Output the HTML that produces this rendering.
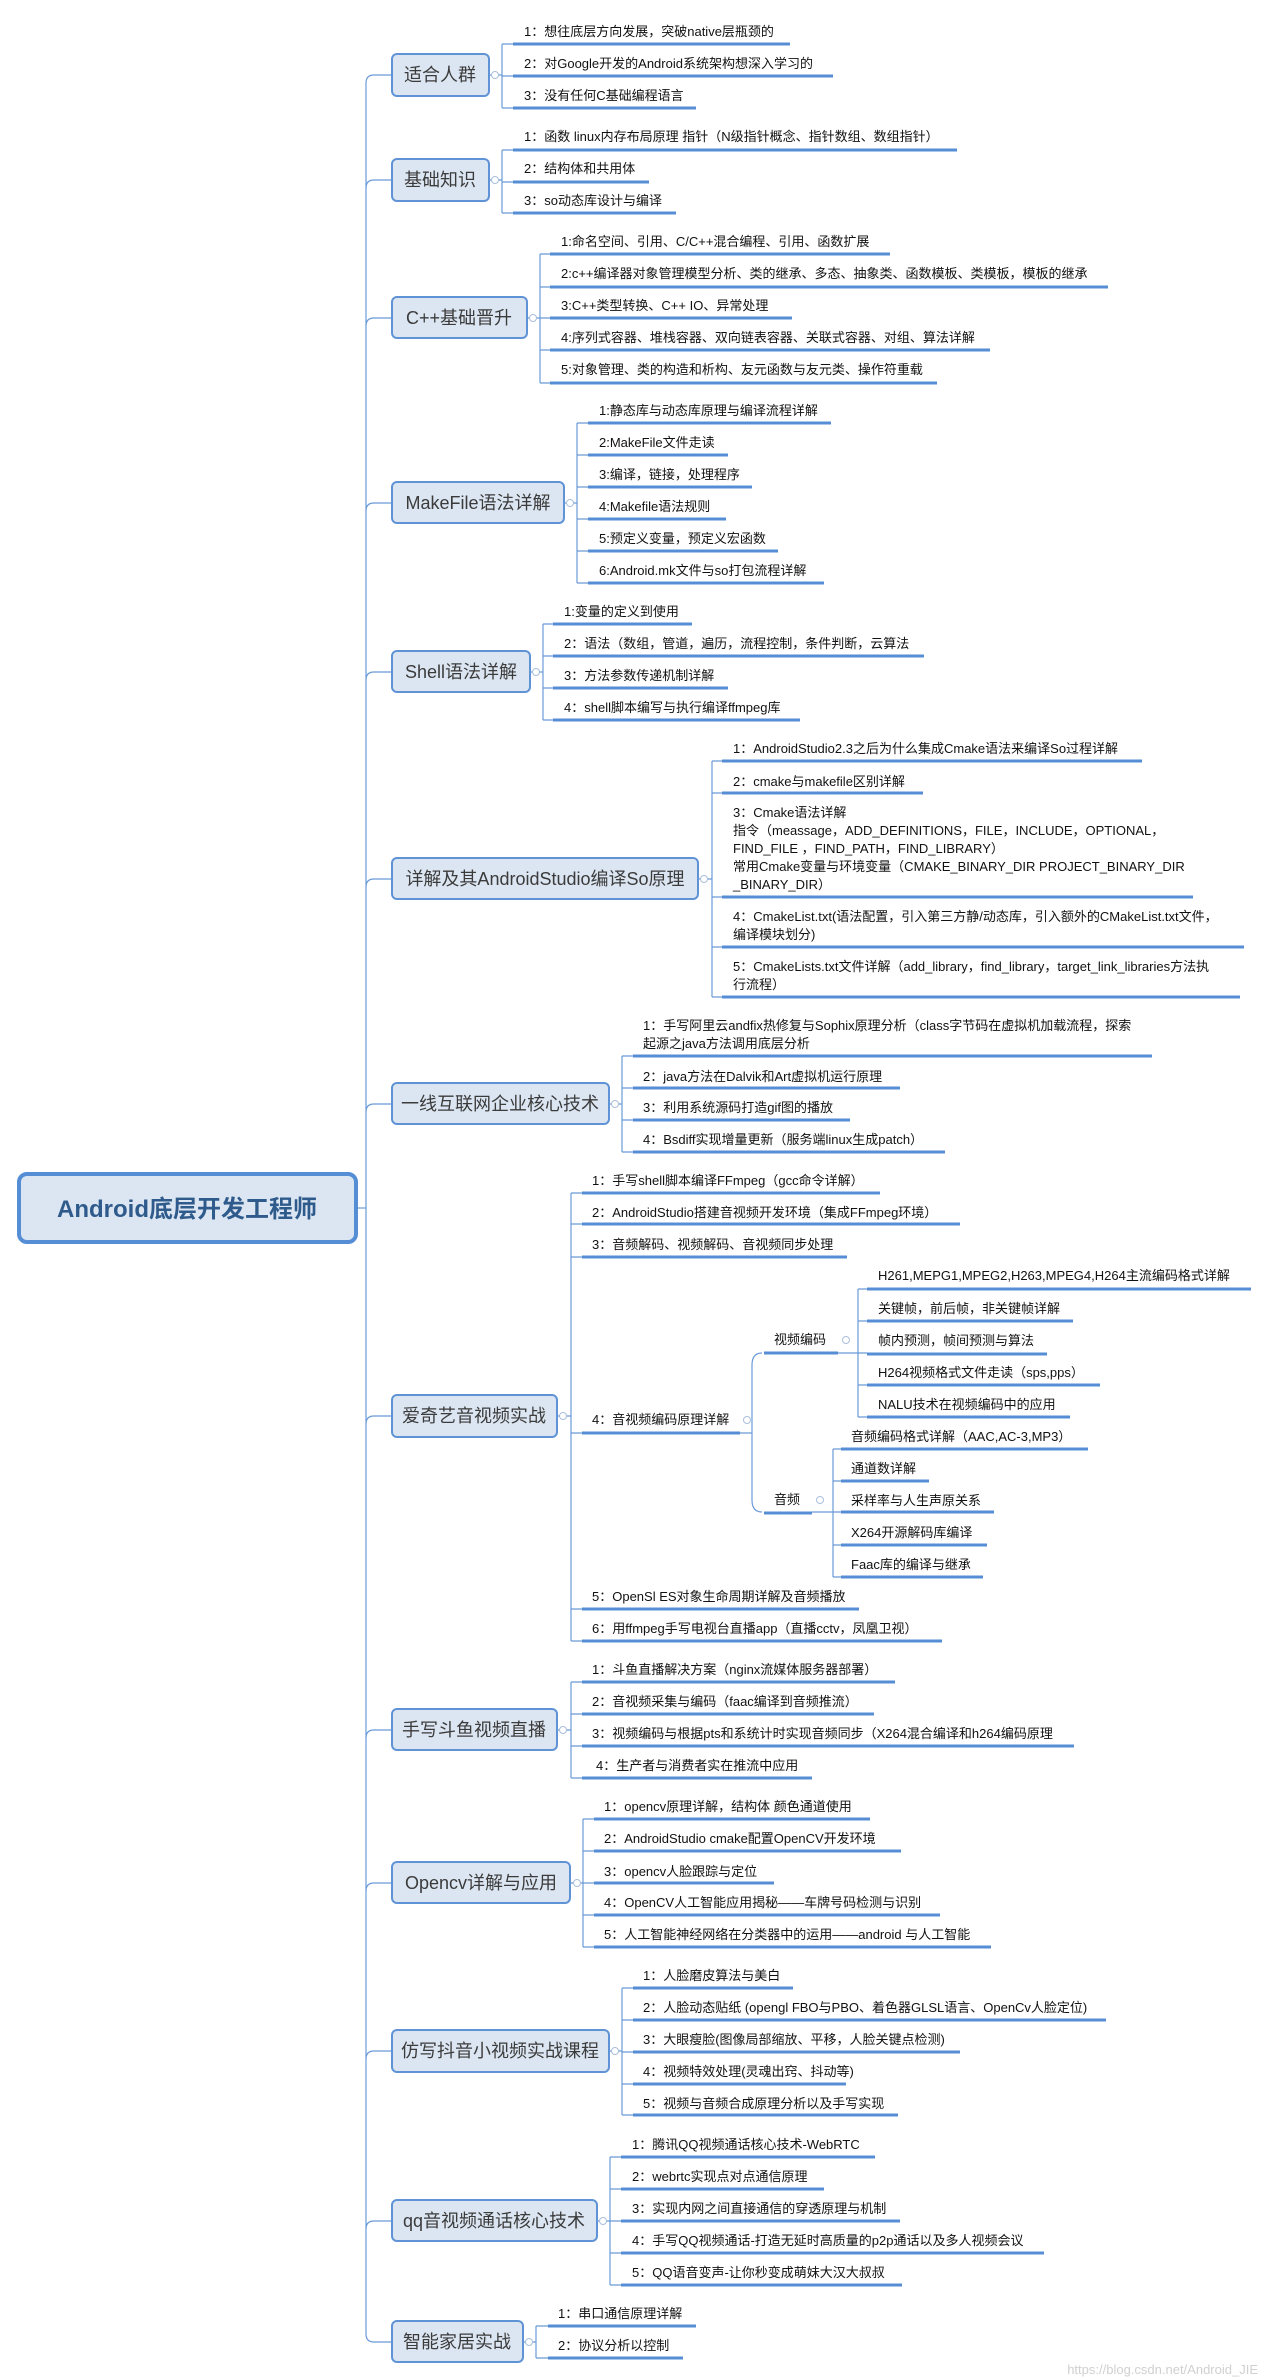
<!DOCTYPE html>
<html><head><meta charset="utf-8"><style>
html,body{margin:0;padding:0;background:#fff;}
svg{display:block;}
text{font-family:"Liberation Sans","Noto Sans CJK SC",sans-serif;}
.l{font-size:13px;fill:#111;}
.b{font-size:18px;fill:#3b3b3b;}
.ul{stroke:#558ed5;stroke-width:3;}
.c{stroke:#6a9bd8;stroke-width:1.2;fill:none;}
.bx{fill:#dce6f2;stroke:#6093d6;stroke-width:2;}
.o{fill:#fff;stroke:#a9bfdc;stroke-width:1;}
</style></head><body>
<svg width="1262" height="2379" viewBox="0 0 1262 2379" xmlns="http://www.w3.org/2000/svg">
<!-- trunk -->
<path class="c" d="M366 83 V2334"/>
<path class="c" d="M366 83 Q366 75 374 75 H392"/>
<path class="c" d="M366 188 Q366 180 374 180 H392"/>
<path class="c" d="M366 326 Q366 318 374 318 H392"/>
<path class="c" d="M366 511 Q366 503 374 503 H392"/>
<path class="c" d="M366 680 Q366 672 374 672 H392"/>
<path class="c" d="M366 887 Q366 879 374 879 H392"/>
<path class="c" d="M366 1112 Q366 1104 374 1104 H392"/>
<path class="c" d="M366 1424 Q366 1416 374 1416 H392"/>
<path class="c" d="M366 1738 Q366 1730 374 1730 H392"/>
<path class="c" d="M366 1891 Q366 1883 374 1883 H392"/>
<path class="c" d="M366 2059 Q366 2051 374 2051 H392"/>
<path class="c" d="M366 2229 Q366 2221 374 2221 H392"/>
<path class="c" d="M366 2334 Q366 2342 374 2342 H392"/>
<path class="c" d="M358 1208 H366"/>

<!-- root -->
<rect x="19" y="1174" width="337" height="68" rx="8" fill="#dce6f2" stroke="#558ed5" stroke-width="4"/>
<text x="187" y="1217" text-anchor="middle" style="font-size:24px;font-weight:bold;fill:#2f5b8c">Android底层开发工程师</text>

<!-- G1 -->
<rect class="bx" x="392" y="54" width="97" height="42" rx="5"/>
<text class="b" x="440" y="81" text-anchor="middle">适合人群</text>
<path class="c" d="M489 75 H502 M502 44 V108 M502 44 H513 M502 76 H513 M502 108 H513"/>
<circle class="o" cx="495" cy="75" r="3.5"/>
<text class="l" x="524" y="36">1：想往底层方向发展，突破native层瓶颈的</text><line class="ul" x1="513" y1="44" x2="790" y2="44"/>
<text class="l" x="524" y="68">2：对Google开发的Android系统架构想深入学习的</text><line class="ul" x1="513" y1="76" x2="833" y2="76"/>
<text class="l" x="524" y="100">3：没有任何C基础编程语言</text><line class="ul" x1="513" y1="108" x2="696" y2="108"/>

<!-- G2 -->
<rect class="bx" x="392" y="159" width="97" height="42" rx="5"/>
<text class="b" x="440" y="186" text-anchor="middle">基础知识</text>
<path class="c" d="M489 180 H502 M502 150 V213 M502 150 H513 M502 182 H513 M502 213 H513"/>
<circle class="o" cx="495" cy="180" r="3.5"/>
<text class="l" x="524" y="141">1：函数 linux内存布局原理 指针（N级指针概念、指针数组、数组指针）</text><line class="ul" x1="513" y1="150" x2="957" y2="150"/>
<text class="l" x="524" y="173">2：结构体和共用体</text><line class="ul" x1="513" y1="182" x2="649" y2="182"/>
<text class="l" x="524" y="205">3：so动态库设计与编译</text><line class="ul" x1="513" y1="213" x2="676" y2="213"/>

<!-- G3 -->
<rect class="bx" x="392" y="297" width="135" height="41" rx="5"/>
<text class="b" x="459" y="324" text-anchor="middle">C++基础晋升</text>
<path class="c" d="M527 318 H540 M540 254 V383 M540 254 H550 M540 287 H550 M540 318 H550 M540 350 H550 M540 383 H550"/>
<circle class="o" cx="533" cy="318" r="3.5"/>
<text class="l" x="561" y="246">1:命名空间、引用、C/C++混合编程、引用、函数扩展</text><line class="ul" x1="550" y1="254" x2="890" y2="254"/>
<text class="l" x="561" y="278">2:c++编译器对象管理模型分析、类的继承、多态、抽象类、函数模板、类模板，模板的继承</text><line class="ul" x1="550" y1="287" x2="1108" y2="287"/>
<text class="l" x="561" y="310">3:C++类型转换、C++ IO、异常处理</text><line class="ul" x1="550" y1="318" x2="792" y2="318"/>
<text class="l" x="561" y="342">4:序列式容器、堆栈容器、双向链表容器、关联式容器、对组、算法详解</text><line class="ul" x1="550" y1="350" x2="990" y2="350"/>
<text class="l" x="561" y="374">5:对象管理、类的构造和析构、友元函数与友元类、操作符重载</text><line class="ul" x1="550" y1="383" x2="937" y2="383"/>

<!-- G4 -->
<rect class="bx" x="392" y="482" width="172" height="41" rx="5"/>
<text class="b" x="478" y="509" text-anchor="middle">MakeFile语法详解</text>
<path class="c" d="M564 503 H577 M577 423 V583 M577 423 H588 M577 455 H588 M577 487 H588 M577 519 H588 M577 551 H588 M577 583 H588"/>
<circle class="o" cx="570" cy="503" r="3.5"/>
<text class="l" x="599" y="415">1:静态库与动态库原理与编译流程详解</text><line class="ul" x1="588" y1="423" x2="831" y2="423"/>
<text class="l" x="599" y="447">2:MakeFile文件走读</text><line class="ul" x1="588" y1="455" x2="728" y2="455"/>
<text class="l" x="599" y="479">3:编译，链接，处理程序</text><line class="ul" x1="588" y1="487" x2="752" y2="487"/>
<text class="l" x="599" y="511">4:Makefile语法规则</text><line class="ul" x1="588" y1="519" x2="726" y2="519"/>
<text class="l" x="599" y="543">5:预定义变量，预定义宏函数</text><line class="ul" x1="588" y1="551" x2="778" y2="551"/>
<text class="l" x="599" y="575">6:Android.mk文件与so打包流程详解</text><line class="ul" x1="588" y1="583" x2="824" y2="583"/>

<!-- G5 -->
<rect class="bx" x="392" y="651" width="138" height="41" rx="5"/>
<text class="b" x="461" y="678" text-anchor="middle">Shell语法详解</text>
<path class="c" d="M530 672 H543 M543 624 V720 M543 624 H553 M543 656 H553 M543 688 H553 M543 720 H553"/>
<circle class="o" cx="536" cy="672" r="3.5"/>
<text class="l" x="564" y="616">1:变量的定义到使用</text><line class="ul" x1="553" y1="624" x2="692" y2="624"/>
<text class="l" x="564" y="648">2：语法（数组，管道，遍历，流程控制，条件判断，云算法</text><line class="ul" x1="553" y1="656" x2="924" y2="656"/>
<text class="l" x="564" y="680">3：方法参数传递机制详解</text><line class="ul" x1="553" y1="688" x2="728" y2="688"/>
<text class="l" x="564" y="712">4：shell脚本编写与执行编译ffmpeg库</text><line class="ul" x1="553" y1="720" x2="800" y2="720"/>

<!-- G6 -->
<rect class="bx" x="392" y="858" width="306" height="41" rx="5"/>
<text class="b" x="545" y="885" text-anchor="middle">详解及其AndroidStudio编译So原理</text>
<path class="c" d="M698 879 H712 M712 761 V997 M712 761 H722 M712 793 H722 M712 897 H722 M712 947 H722 M712 997 H722"/>
<circle class="o" cx="704" cy="879" r="3.5"/>
<text class="l" x="733" y="753">1：AndroidStudio2.3之后为什么集成Cmake语法来编译So过程详解</text><line class="ul" x1="722" y1="761" x2="1142" y2="761"/>
<text class="l" x="733" y="786">2：cmake与makefile区别详解</text><line class="ul" x1="722" y1="793" x2="923" y2="793"/>
<text class="l" x="733" y="817">3：Cmake语法详解</text>
<text class="l" x="733" y="835">指令（meassage，ADD_DEFINITIONS，FILE，INCLUDE，OPTIONAL，</text>
<text class="l" x="733" y="853">FIND_FILE ，FIND_PATH，FIND_LIBRARY）</text>
<text class="l" x="733" y="871">常用Cmake变量与环境变量（CMAKE_BINARY_DIR PROJECT_BINARY_DIR</text>
<text class="l" x="733" y="889">_BINARY_DIR）</text>
<line class="ul" x1="722" y1="897" x2="1193" y2="897"/>
<text class="l" x="733" y="921">4：CmakeList.txt(语法配置，引入第三方静/动态库，引入额外的CMakeList.txt文件，</text>
<text class="l" x="733" y="939">编译模块划分)</text>
<line class="ul" x1="722" y1="947" x2="1244" y2="947"/>
<text class="l" x="733" y="971">5：CmakeLists.txt文件详解（add_library，find_library，target_link_libraries方法执</text>
<text class="l" x="733" y="989">行流程）</text>
<line class="ul" x1="722" y1="997" x2="1240" y2="997"/>

<!-- G7 -->
<rect class="bx" x="392" y="1083" width="217" height="41" rx="5"/>
<text class="b" x="500" y="1110" text-anchor="middle">一线互联网企业核心技术</text>
<path class="c" d="M609 1104 H622 M622 1056 V1152 M622 1056 H633 M622 1088 H633 M622 1120 H633 M622 1152 H633"/>
<circle class="o" cx="615" cy="1104" r="3.5"/>
<text class="l" x="643" y="1030">1：手写阿里云andfix热修复与Sophix原理分析（class字节码在虚拟机加载流程，探索</text>
<text class="l" x="643" y="1048">起源之java方法调用底层分析</text>
<line class="ul" x1="633" y1="1056" x2="1152" y2="1056"/>
<text class="l" x="643" y="1081">2：java方法在Dalvik和Art虚拟机运行原理</text><line class="ul" x1="633" y1="1088" x2="900" y2="1088"/>
<text class="l" x="643" y="1112">3：利用系统源码打造gif图的播放</text><line class="ul" x1="633" y1="1120" x2="850" y2="1120"/>
<text class="l" x="643" y="1144">4：Bsdiff实现增量更新（服务端linux生成patch）</text><line class="ul" x1="633" y1="1152" x2="945" y2="1152"/>

<!-- G8 -->
<rect class="bx" x="392" y="1395" width="165" height="42" rx="5"/>
<text class="b" x="474" y="1422" text-anchor="middle">爱奇艺音视频实战</text>
<path class="c" d="M557 1416 H571 M571 1193 V1641 M571 1193 H582 M571 1224 H582 M571 1257 H582 M571 1433 H582 M571 1609 H582 M571 1641 H582"/>
<circle class="o" cx="563" cy="1416" r="3.5"/>
<text class="l" x="592" y="1185">1：手写shell脚本编译FFmpeg（gcc命令详解）</text><line class="ul" x1="582" y1="1193" x2="880" y2="1193"/>
<text class="l" x="592" y="1217">2：AndroidStudio搭建音视频开发环境（集成FFmpeg环境）</text><line class="ul" x1="582" y1="1224" x2="960" y2="1224"/>
<text class="l" x="592" y="1249">3：音频解码、视频解码、音视频同步处理</text><line class="ul" x1="582" y1="1257" x2="847" y2="1257"/>
<text class="l" x="592" y="1424">4：音视频编码原理详解</text><line class="ul" x1="582" y1="1433" x2="740" y2="1433"/>
<text class="l" x="592" y="1601">5：OpenSl ES对象生命周期详解及音频播放</text><line class="ul" x1="582" y1="1609" x2="859" y2="1609"/>
<text class="l" x="592" y="1633">6：用ffmpeg手写电视台直播app（直播cctv，凤凰卫视）</text><line class="ul" x1="582" y1="1641" x2="942" y2="1641"/>
<circle class="o" cx="747" cy="1420" r="3.5"/>
<path class="c" d="M740 1433 H752 M762 1353 Q752 1353 752 1365 V1500 Q752 1512 762 1512"/>
<!-- 视频编码 -->
<text class="l" x="774" y="1344">视频编码</text><line class="ul" x1="764" y1="1353" x2="838" y2="1353"/>
<circle class="o" cx="846" cy="1340" r="3.5"/>
<path class="c" d="M838 1353 H867 M858 1289 V1417 M858 1289 H867 M858 1321 H867 M858 1385 H867 M858 1417 H867"/>
<text class="l" x="878" y="1280">H261,MEPG1,MPEG2,H263,MPEG4,H264主流编码格式详解</text><line class="ul" x1="867" y1="1289" x2="1251" y2="1289"/>
<text class="l" x="878" y="1313">关键帧，前后帧，非关键帧详解</text><line class="ul" x1="867" y1="1321" x2="1073" y2="1321"/>
<text class="l" x="878" y="1345">帧内预测，帧间预测与算法</text><line class="ul" x1="867" y1="1354" x2="1047" y2="1354"/>
<text class="l" x="878" y="1377">H264视频格式文件走读（sps,pps）</text><line class="ul" x1="867" y1="1385" x2="1100" y2="1385"/>
<text class="l" x="878" y="1409">NALU技术在视频编码中的应用</text><line class="ul" x1="867" y1="1417" x2="1070" y2="1417"/>
<!-- 音频 -->
<text class="l" x="774" y="1504">音频</text><line class="ul" x1="764" y1="1513" x2="812" y2="1513"/>
<circle class="o" cx="820" cy="1500" r="3.5"/>
<path class="c" d="M812 1512 H841 M833 1449 V1577 M833 1449 H841 M833 1481 H841 M833 1545 H841 M833 1577 H841"/>
<text class="l" x="851" y="1441">音频编码格式详解（AAC,AC-3,MP3）</text><line class="ul" x1="841" y1="1449" x2="1088" y2="1449"/>
<text class="l" x="851" y="1473">通道数详解</text><line class="ul" x1="841" y1="1481" x2="929" y2="1481"/>
<text class="l" x="851" y="1505">采样率与人生声原关系</text><line class="ul" x1="841" y1="1512" x2="994" y2="1512"/>
<text class="l" x="851" y="1537">X264开源解码库编译</text><line class="ul" x1="841" y1="1545" x2="987" y2="1545"/>
<text class="l" x="851" y="1569">Faac库的编译与继承</text><line class="ul" x1="841" y1="1577" x2="983" y2="1577"/>

<!-- G9 -->
<rect class="bx" x="392" y="1709" width="165" height="41" rx="5"/>
<text class="b" x="474" y="1736" text-anchor="middle">手写斗鱼视频直播</text>
<path class="c" d="M557 1730 H571 M571 1682 V1778 M571 1682 H582 M571 1714 H582 M571 1746 H582 M571 1778 H582"/>
<circle class="o" cx="563" cy="1730" r="3.5"/>
<text class="l" x="592" y="1674">1：斗鱼直播解决方案（nginx流媒体服务器部署）</text><line class="ul" x1="582" y1="1682" x2="895" y2="1682"/>
<text class="l" x="592" y="1706">2：音视频采集与编码（faac编译到音频推流）</text><line class="ul" x1="582" y1="1714" x2="874" y2="1714"/>
<text class="l" x="592" y="1738">3：视频编码与根据pts和系统计时实现音频同步（X264混合编译和h264编码原理</text><line class="ul" x1="582" y1="1746" x2="1074" y2="1746"/>
<text class="l" x="596" y="1770">4：生产者与消费者实在推流中应用</text><line class="ul" x1="582" y1="1778" x2="812" y2="1778"/>

<!-- G10 -->
<rect class="bx" x="392" y="1862" width="178" height="41" rx="5"/>
<text class="b" x="481" y="1889" text-anchor="middle">Opencv详解与应用</text>
<path class="c" d="M570 1883 H583 M583 1819 V1947 M583 1819 H594 M583 1851 H594 M583 1883 H594 M583 1915 H594 M583 1947 H594"/>
<circle class="o" cx="577" cy="1883" r="3.5"/>
<text class="l" x="604" y="1811">1：opencv原理详解，结构体 颜色通道使用</text><line class="ul" x1="594" y1="1819" x2="870" y2="1819"/>
<text class="l" x="604" y="1843">2：AndroidStudio cmake配置OpenCV开发环境</text><line class="ul" x1="594" y1="1851" x2="901" y2="1851"/>
<text class="l" x="604" y="1876">3：opencv人脸跟踪与定位</text><line class="ul" x1="594" y1="1883" x2="774" y2="1883"/>
<text class="l" x="604" y="1907">4：OpenCV人工智能应用揭秘——车牌号码检测与识别</text><line class="ul" x1="594" y1="1915" x2="940" y2="1915"/>
<text class="l" x="604" y="1939">5：人工智能神经网络在分类器中的运用——android 与人工智能</text><line class="ul" x1="594" y1="1947" x2="991" y2="1947"/>

<!-- G11 -->
<rect class="bx" x="392" y="2030" width="217" height="42" rx="5"/>
<text class="b" x="500" y="2057" text-anchor="middle">仿写抖音小视频实战课程</text>
<path class="c" d="M609 2051 H622 M622 1988 V2115 M622 1988 H633 M622 2020 H633 M622 2052 H633 M622 2084 H633 M622 2115 H633"/>
<circle class="o" cx="615" cy="2051" r="3.5"/>
<text class="l" x="643" y="1980">1：人脸磨皮算法与美白</text><line class="ul" x1="633" y1="1988" x2="793" y2="1988"/>
<text class="l" x="643" y="2012">2：人脸动态贴纸 (opengl FBO与PBO、着色器GLSL语言、OpenCv人脸定位)</text><line class="ul" x1="633" y1="2020" x2="1106" y2="2020"/>
<text class="l" x="643" y="2044">3：大眼瘦脸(图像局部缩放、平移，人脸关键点检测)</text><line class="ul" x1="633" y1="2052" x2="960" y2="2052"/>
<text class="l" x="643" y="2076">4：视频特效处理(灵魂出窍、抖动等)</text><line class="ul" x1="633" y1="2084" x2="846" y2="2084"/>
<text class="l" x="643" y="2108">5：视频与音频合成原理分析以及手写实现</text><line class="ul" x1="633" y1="2115" x2="898" y2="2115"/>

<!-- G12 -->
<rect class="bx" x="392" y="2200" width="205" height="41" rx="5"/>
<text class="b" x="494" y="2227" text-anchor="middle">qq音视频通话核心技术</text>
<path class="c" d="M597 2221 H610 M610 2157 V2285 M610 2157 H621 M610 2189 H621 M610 2221 H621 M610 2253 H621 M610 2285 H621"/>
<circle class="o" cx="603" cy="2221" r="3.5"/>
<text class="l" x="632" y="2149">1：腾讯QQ视频通话核心技术-WebRTC</text><line class="ul" x1="621" y1="2157" x2="875" y2="2157"/>
<text class="l" x="632" y="2181">2：webrtc实现点对点通信原理</text><line class="ul" x1="621" y1="2189" x2="824" y2="2189"/>
<text class="l" x="632" y="2213">3：实现内网之间直接通信的穿透原理与机制</text><line class="ul" x1="621" y1="2221" x2="900" y2="2221"/>
<text class="l" x="632" y="2245">4：手写QQ视频通话-打造无延时高质量的p2p通话以及多人视频会议</text><line class="ul" x1="621" y1="2253" x2="1044" y2="2253"/>
<text class="l" x="632" y="2277">5：QQ语音变声-让你秒变成萌妹大汉大叔叔</text><line class="ul" x1="621" y1="2285" x2="902" y2="2285"/>

<!-- G13 -->
<rect class="bx" x="392" y="2321" width="131" height="41" rx="5"/>
<text class="b" x="457" y="2348" text-anchor="middle">智能家居实战</text>
<path class="c" d="M523 2342 H536 M536 2326 V2358 M536 2326 H548 M536 2358 H548"/>
<circle class="o" cx="529" cy="2342" r="3.5"/>
<text class="l" x="558" y="2318">1：串口通信原理详解</text><line class="ul" x1="548" y1="2326" x2="696" y2="2326"/>
<text class="l" x="558" y="2350">2：协议分析以控制</text><line class="ul" x1="548" y1="2358" x2="683" y2="2358"/>

<text x="1258" y="2374" text-anchor="end" style="font-size:13px;fill:#d0d0d0">https://blog.csdn.net/Android_JIE</text>
</svg>
</body></html>
